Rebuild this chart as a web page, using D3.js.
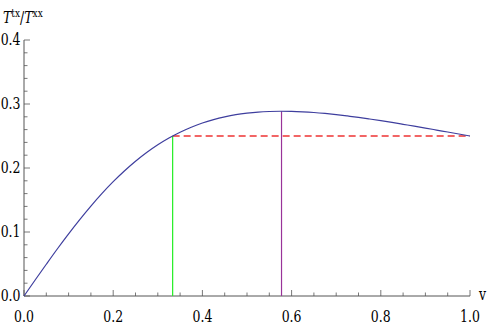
<!DOCTYPE html>
<html><head><meta charset="utf-8">
<script src="https://cdn.jsdelivr.net/npm/d3@7"></script>
<style>body{margin:0;background:#fff}svg{display:block}</style>
</head><body>
<svg id="c" width="491" height="327"></svg>
<script>
const vValues = [0,0.025,0.05,0.075,0.1,0.125,0.15,0.175,0.2,0.225,0.25,0.275,0.3,0.325,0.35,0.375,0.4,0.425,0.45,0.475,0.5,0.525,0.55,0.575,0.6,0.625,0.65,0.675,0.7,0.725,0.75,0.775,0.8,0.825,0.85,0.875,0.9,0.925,0.95,0.975,1.0];
const ratioValues = [0,0.0250,0.0496,0.0738,0.0971,0.1194,0.1405,0.1603,0.1786,0.1953,0.2105,0.2241,0.2362,0.2468,0.2559,0.2637,0.2703,0.2756,0.2799,0.2833,0.2857,0.2874,0.2883,0.2887,0.2885,0.2878,0.2867,0.2852,0.2834,0.2813,0.2791,0.2766,0.2740,0.2712,0.2683,0.2654,0.2624,0.2593,0.2562,0.2531,0.25];
const xTicks = [0,0.2,0.4,0.6,0.8,1.0];
const yTicks = [0,0.1,0.2,0.3,0.4];
const greenMark = {v:0.3333, y:0.25};
const purpleMark = {v:0.5774, y:0.2887};
const dashedLevel = {from:0.3333, to:1.0, y:0.25};

const svg = d3.select('#c');
const x = d3.scaleLinear().domain([0,1]).range([24,470]);
const y = d3.scaleLinear().domain([0,0.4]).range([296,40]);
const axisColor = '#555';
const fontFam = 'DejaVu Serif, serif';
const fs = '12.5px';
const sy = 1.3;

function label(px, py, txt, anchor){
  return svg.append('text').attr('transform',`translate(${px},${py}) scale(1,${sy})`)
    .attr('text-anchor',anchor).style('font-family',fontFam).style('font-size',fs).text(txt);
}

svg.append('line').attr('x1',x(0)).attr('x2',x(1)).attr('y1',y(0)).attr('y2',y(0)).attr('stroke',axisColor);
svg.append('line').attr('x1',x(0)).attr('x2',x(0)).attr('y1',y(0)).attr('y2',y(0.4)).attr('stroke',axisColor);

d3.range(0,1.0001,0.05).forEach(t=>{
  const major = xTicks.some(m=>Math.abs(m-t)<1e-6);
  svg.append('line').attr('x1',x(t)).attr('x2',x(t)).attr('y1',y(0)).attr('y2',y(0)-(major?6:3.5)).attr('stroke',axisColor).attr('stroke-width',0.8);
});
d3.range(0,0.4001,0.02).forEach(t=>{
  const major = yTicks.some(m=>Math.abs(m-t)<1e-6);
  svg.append('line').attr('y1',y(t)).attr('y2',y(t)).attr('x1',x(0)).attr('x2',x(0)+(major?6:3.5)).attr('stroke',axisColor).attr('stroke-width',0.8);
});

xTicks.forEach(t=>label(x(t), 322, d3.format('.1f')(t), 'middle'));
yTicks.forEach(t=>label(20.5, y(t)+5, d3.format('.1f')(t), 'end'));

label(479, 300, 'v', 'start');
const title = svg.append('text').attr('transform',`translate(3,23) scale(1,${sy})`).style('font-family',fontFam).style('font-size',fs);
title.append('tspan').style('font-style','italic').text('T');
title.append('tspan').style('font-size','9px').attr('dy',-5).text('tx');
title.append('tspan').attr('dy',5).text('/');
title.append('tspan').style('font-style','italic').text('T');
title.append('tspan').style('font-size','9px').attr('dy',-5).text('xx');

svg.append('line').attr('x1',x(dashedLevel.from)).attr('x2',x(dashedLevel.to)).attr('y1',y(dashedLevel.y)).attr('y2',y(dashedLevel.y))
  .attr('stroke','#ee3333').attr('stroke-width',1.3).attr('stroke-dasharray','7,4');
svg.append('line').attr('x1',x(greenMark.v)).attr('x2',x(greenMark.v)).attr('y1',y(0)).attr('y2',y(greenMark.y))
  .attr('stroke','#22ee22').attr('stroke-width',1.2);
svg.append('line').attr('x1',x(purpleMark.v)).attr('x2',x(purpleMark.v)).attr('y1',y(0)).attr('y2',y(purpleMark.y))
  .attr('stroke','#993399').attr('stroke-width',1.2);

const line = d3.line().x((d,i)=>x(vValues[i])).y(d=>y(d)).curve(d3.curveMonotoneX);
svg.append('path').attr('d',line(ratioValues)).attr('fill','none').attr('stroke','#3e3e9e').attr('stroke-width',1.2);
</script>
</body></html>
